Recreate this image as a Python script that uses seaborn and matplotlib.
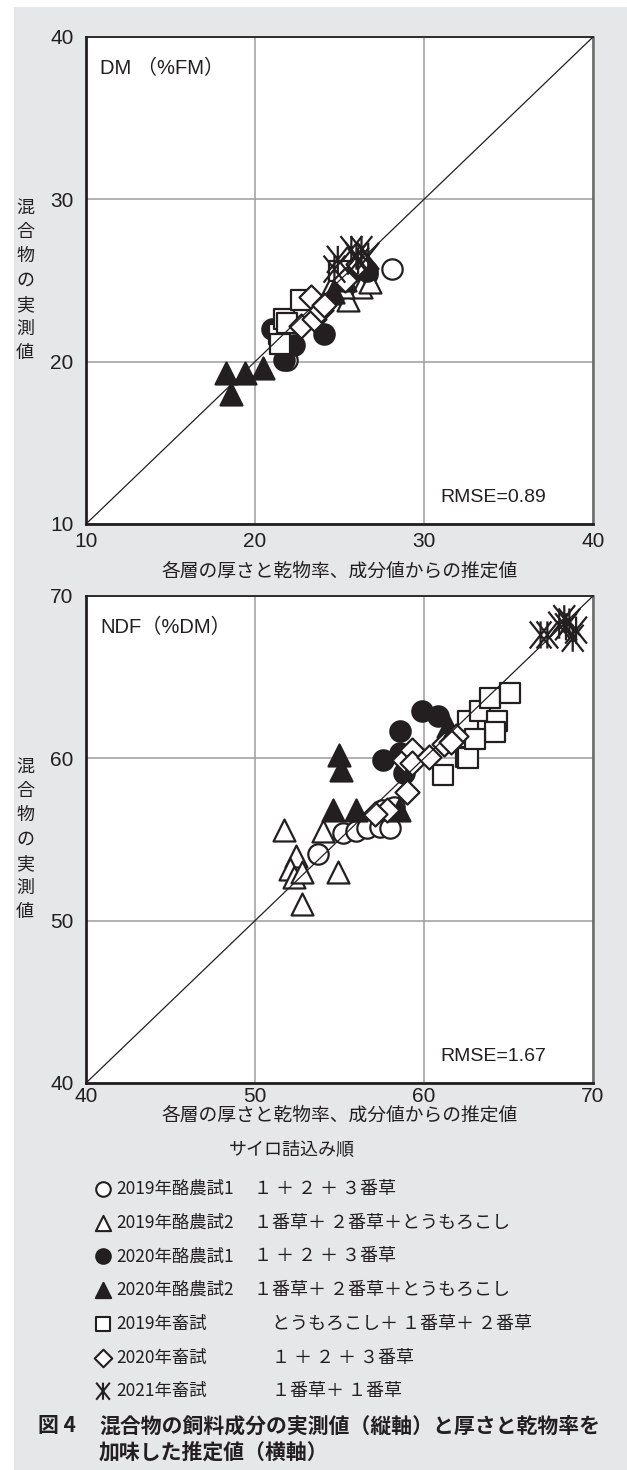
import matplotlib
matplotlib.use("Agg")
import matplotlib.pyplot as plt
from matplotlib.path import Path
import pandas as pd
import seaborn as sns

# グループ (凡例の順)
group_names = ["2019年酪農試1", "2019年酪農試2", "2020年酪農試1", "2020年酪農試2",
               "2019年畜試", "2020年畜試", "2021年畜試"]
group_desc = ["１ ＋ ２ ＋ ３番草", "１番草＋ ２番草＋とうもろこし", "１ ＋ ２ ＋ ３番草",
              "１番草＋ ２番草＋とうもろこし", "とうもろこし＋ １番草＋ ２番草",
              "１ ＋ ２ ＋ ３番草", "１番草＋ １番草"]

# DM (%FM): 推定値 x, 実測値 y
dm_x = {
    "2019年酪農試1": [21.9, 26.2, 26.6, 28.1],
    "2019年酪農試2": [24.8, 25.5, 26.3, 26.8, 25.2, 24.5],
    "2020年酪農試1": [21.0, 21.7, 22.3, 24.1, 26.2, 26.6],
    "2020年酪農試2": [18.3, 18.6, 19.4, 20.5, 24.6, 25.3],
    "2019年畜試": [21.4, 21.5, 21.7, 21.9, 22.7, 25.0],
    "2020年畜試": [22.7, 23.3, 23.5, 23.9, 24.1, 25.3, 26.1],
    "2021年畜試": [24.7, 24.9, 25.7, 26.0, 26.3, 26.7, 26.1],
}
dm_y = {
    "2019年酪農試1": [20.1, 25.7, 25.4, 25.7],
    "2019年酪農試2": [24.2, 23.8, 24.6, 24.9, 24.6, 24.6],
    "2020年酪農試1": [22.0, 20.1, 21.0, 21.7, 25.8, 25.6],
    "2020年酪農試2": [19.3, 18.0, 19.3, 19.6, 24.3, 25.0],
    "2019年畜試": [21.7, 21.1, 22.6, 22.4, 23.8, 25.6],
    "2020年畜試": [22.2, 24.0, 22.6, 23.2, 23.5, 25.0, 26.0],
    "2021年畜試": [25.7, 26.3, 26.9, 26.5, 26.9, 26.5, 26.2],
}

# NDF (%DM)
ndf_x = {
    "2019年酪農試1": [53.7, 55.2, 56.0, 56.6, 57.4, 58.0, 58.2, 57.5],
    "2019年酪農試2": [51.7, 52.4, 52.1, 52.3, 52.8, 52.8, 54.0, 54.9],
    "2020年酪農試1": [57.6, 58.6, 58.8, 59.9, 60.8, 58.6],
    "2020年酪農試2": [55.0, 55.1, 54.6, 56.0, 58.5, 61.4],
    "2019年畜試": [61.1, 62.5, 62.6, 62.6, 63.3, 63.9, 64.3, 64.2, 65.1, 63.0],
    "2020年畜試": [59.0, 58.8, 59.3, 59.3, 61.2, 61.9, 61.6, 60.3, 57.8, 57.1],
    "2021年畜試": [66.9, 67.3, 68.0, 68.3, 68.4, 68.6, 68.8, 69.0],
}
ndf_y = {
    "2019年酪農試1": [54.1, 55.4, 55.5, 55.7, 55.8, 55.7, 57.0, 56.8],
    "2019年酪農試2": [55.6, 54.0, 53.2, 52.7, 53.0, 51.0, 55.5, 53.0],
    "2020年酪農試1": [59.9, 61.7, 59.1, 62.9, 62.6, 60.3],
    "2020年酪農試2": [60.2, 59.3, 56.8, 56.8, 56.8, 62.0],
    "2019年畜試": [59.0, 60.1, 60.0, 62.3, 62.9, 63.7, 62.3, 61.6, 64.0, 61.2],
    "2020年畜試": [57.9, 59.9, 60.5, 59.7, 60.9, 61.4, 61.0, 60.1, 56.8, 56.6],
    "2021年畜試": [67.6, 67.6, 68.2, 68.6, 68.1, 68.4, 67.4, 67.9],
}

dm_ticks = [10, 20, 30, 40]
ndf_ticks = [40, 50, 60, 70]

rows = []
for panel, xs, ys in [("DM", dm_x, dm_y), ("NDF", ndf_x, ndf_y)]:
    for g in group_names:
        for xv, yv in zip(xs[g], ys[g]):
            rows.append({"panel": panel, "group": g, "x": xv, "y": yv})
df = pd.DataFrame(rows)

sns.set_style("white")
cjk = "Noto Sans CJK JP"
narrow = ["Liberation Sans Narrow", "Liberation Sans", cjk]
plt.rcParams["font.family"] = ["Liberation Sans", cjk]

ink = "#231f20"
gray_bg = "#e6e7e9"

# 縦線+X のアスタリスク
star = Path([(0, -1), (0, 1), (-0.8, -1), (0.8, 1), (0.8, -1), (-0.8, 1)],
            [Path.MOVETO, Path.LINETO, Path.MOVETO, Path.LINETO, Path.MOVETO, Path.LINETO])

# marker, facecolor, size (plot), size (legend)
styles = {
    "2019年酪農試1": ("o", "white", 215, 110),
    "2019年酪農試2": ("^", "white", 250, 120),
    "2020年酪農試1": ("o", ink, 215, 110),
    "2020年酪農試2": ("^", ink, 250, 120),
    "2019年畜試": ("s", "white", 225, 110),
    "2020年畜試": ("D", "white", 150, 80),
    "2021年畜試": (star, "none", 380, 150),
}

W, H = 627, 1470
fig = plt.figure(figsize=(W / 100, H / 100), dpi=100)
bg = fig.add_axes([0, 0, 1, 1], zorder=0)
bg.set_xlim(0, W)
bg.set_ylim(H, 0)
bg.axis("off")
bg.add_patch(plt.Rectangle((14, 7), W - 14, H - 7, color=gray_bg, lw=0))


def px_axes(l, t, r, b):
    return fig.add_axes([l / W, 1 - b / H, (r - l) / W, (b - t) / H], zorder=1)


ax1 = px_axes(86, 37, 593, 524)
ax2 = px_axes(86, 596, 593, 1083)

panels = [
    (ax1, "DM", dm_ticks, "DM （%FM）", "RMSE=0.89", 6, 7),
    (ax2, "NDF", ndf_ticks, "NDF（%DM）", "RMSE=1.67", 3, -1),
]

for ax, key, ticks, title, rmse, tpad, lpad in panels:
    lims = [ticks[0], ticks[-1]]
    sub = df[df["panel"] == key]
    for g in group_names:
        mk, fc, sz, _ = styles[g]
        sns.scatterplot(data=sub[sub["group"] == g], x="x", y="y", marker=mk, s=sz,
                        facecolor=fc, edgecolor=ink, linewidth=1.6, ax=ax, zorder=3)
    ax.plot(lims, lims, color=ink, lw=0.9, zorder=4)
    ax.set_xlim(lims)
    ax.set_ylim(lims)
    ax.set_xticks(ticks)
    ax.set_yticks(ticks)
    ax.grid(True, color="#9d9d9d", lw=1.1)
    ax.set_axisbelow(True)
    for side in ["left", "bottom"]:
        ax.spines[side].set_color(ink)
        ax.spines[side].set_linewidth(2)
    ax.spines["top"].set_color(ink)
    ax.spines["top"].set_linewidth(1.3)
    ax.spines["right"].set_color("#6a6a6a")
    ax.spines["right"].set_linewidth(1.8)
    ax.tick_params(axis="y", length=5, width=1.2, color=ink, pad=4, labelsize=15)
    ax.tick_params(axis="x", length=0, pad=tpad, labelsize=15)
    for lbl in ax.get_xticklabels() + ax.get_yticklabels():
        lbl.set_family(narrow)
        lbl.set_color(ink)
    ax.set_xlabel("各層の厚さと乾物率、成分値からの推定値", fontsize=13.5, family=cjk,
                  color=ink, labelpad=lpad)
    ax.set_ylabel("\n".join("混合物の実測値"), rotation=0, fontsize=13, family=cjk,
                  color=ink, linespacing=1.45, va="center", ha="center")
    ax.yaxis.set_label_coords(-0.12, 0.5)
    ax.text(0.028, 0.935, title, transform=ax.transAxes, fontsize=14.5, va="center",
            color=ink)
    ax.text(0.698, 0.055, rmse, transform=ax.transAxes, fontsize=14, va="center",
            color=ink)

# 凡例
bg.text(292, 1150, "サイロ詰込み順", ha="center", va="center", fontsize=13,
        family=cjk, color=ink)
row_y0, row_dy = 1189, 33.7
for i, g in enumerate(group_names):
    mk, fc, _, lsz = styles[g]
    yy = row_y0 + i * row_dy
    bg.scatter([103], [yy], marker=mk, s=lsz, facecolor=fc, edgecolor=ink,
               linewidth=1.5, zorder=3)
    bg.text(116, yy, g, va="center", fontsize=12.5, family=cjk, color=ink)
    desc_x = 272 if "畜試" in g else 254
    bg.text(desc_x, yy, group_desc[i], va="center", fontsize=13, family=cjk, color=ink)

bg.text(38, 1426, "図 4", va="center", fontsize=15, fontweight="bold", family=cjk,
        color=ink)
bg.text(99, 1426, "混合物の飼料成分の実測値（縦軸）と厚さと乾物率を", va="center",
        fontsize=15, fontweight="bold", family=cjk, color=ink)
bg.text(99, 1452, "加味した推定値（横軸）", va="center", fontsize=15,
        fontweight="bold", family=cjk, color=ink)

fig.savefig("out.png", dpi=100, facecolor="white")
